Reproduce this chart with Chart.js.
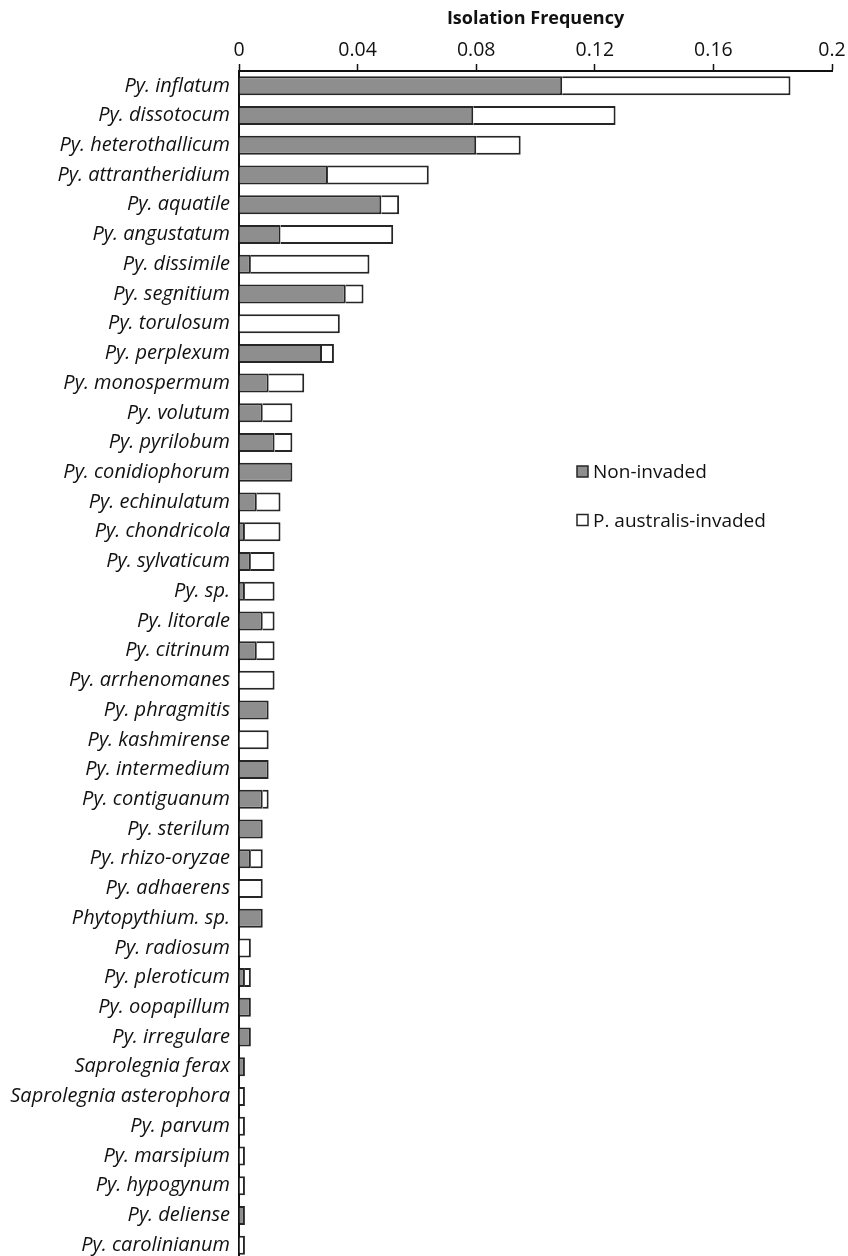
<!DOCTYPE html>
<html>
<head>
<meta charset="utf-8">
<script src="https://cdn.jsdelivr.net/npm/chart.js@4.4.0/dist/chart.umd.min.js"></script>
<style>
    html, body { margin: 0; padding: 0; background: #fff; overflow: hidden; }
    #wrap { position: relative; width: 848px; height: 1281px; }
</style>
</head>
<body>
<div id="wrap"><canvas id="freqChart"></canvas></div>
<script>
const species = [
    'Py. inflatum', 'Py. dissotocum', 'Py. heterothallicum', 'Py. attrantheridium', 'Py. aquatile',
    'Py. angustatum', 'Py. dissimile', 'Py. segnitium', 'Py. torulosum', 'Py. perplexum',
    'Py. monospermum', 'Py. volutum', 'Py. pyrilobum', 'Py. conidiophorum', 'Py. echinulatum',
    'Py. chondricola', 'Py. sylvaticum', 'Py. sp.', 'Py. litorale', 'Py. citrinum',
    'Py. arrhenomanes', 'Py. phragmitis', 'Py. kashmirense', 'Py. intermedium', 'Py. contiguanum',
    'Py. sterilum', 'Py. rhizo-oryzae', 'Py. adhaerens', 'Phytopythium. sp.', 'Py. radiosum',
    'Py. pleroticum', 'Py. oopapillum', 'Py. irregulare', 'Saprolegnia ferax', 'Saprolegnia asterophora',
    'Py. parvum', 'Py. marsipium', 'Py. hypogynum', 'Py. deliense', 'Py. carolinianum'
];

// non-invaded sites (grey part of each bar)
const nonInvaded = [
    0.109, 0.079, 0.080, 0.030, 0.048,
    0.014, 0.004, 0.036, 0, 0.028,
    0.010, 0.008, 0.012, 0.018, 0.006,
    0.002, 0.004, 0.002, 0.008, 0.006,
    0, 0.010, 0, 0.010, 0.008,
    0.008, 0.004, 0, 0.008, 0,
    0.002, 0.004, 0.004, 0.002, 0,
    0, 0, 0, 0.002, 0
];

// P. australis-invaded sites (white part, stacked after the grey one)
const invaded = [
    0.077, 0.048, 0.015, 0.034, 0.006,
    0.038, 0.040, 0.006, 0.034, 0.004,
    0.012, 0.010, 0.006, 0, 0.008,
    0.012, 0.008, 0.010, 0.004, 0.006,
    0.012, 0, 0.010, 0, 0.002,
    0, 0.004, 0.008, 0, 0.004,
    0.002, 0, 0, 0, 0.002,
    0.002, 0.002, 0.002, 0, 0.002
];

const xTicks = [0, 0.04, 0.08, 0.12, 0.16, 0.2];

const FONT = "'Open Sans', 'Noto Sans', sans-serif";
const EDGE = '#262626';

// legend drawn inside the plot area, like the original figure
const insideLegend = {
    id: 'insideLegend',
    afterDraw(chart) {
        const ctx = chart.ctx;
        ctx.save();
        ctx.font = '19px ' + FONT;
        ctx.textBaseline = 'middle';
        chart.data.datasets.forEach((ds, i) => {
            const y = 472 + i * 48.5;
            ctx.fillStyle = ds.backgroundColor;
            ctx.fillRect(577, y - 6, 11, 11);
            ctx.strokeStyle = EDGE;
            ctx.lineWidth = 1.5;
            ctx.strokeRect(577, y - 6, 11, 11);
            ctx.fillStyle = '#111';
            ctx.fillText(ds.label, 593, y + 1);
        });
        ctx.restore();
    }
};

const ctxFreq = document.getElementById('freqChart').getContext('2d');
const freqChart = new Chart(ctxFreq, {
    type: 'bar',
    data: {
        labels: species,
        datasets: [
            {
                label: 'Non-invaded',
                data: nonInvaded,
                backgroundColor: '#8e8e8e',
                borderColor: EDGE,
                borderWidth: 2
            },
            {
                label: 'P. australis-invaded',
                data: invaded,
                backgroundColor: '#ffffff',
                borderColor: EDGE,
                borderWidth: 2
            }
        ]
    },
    options: {
        indexAxis: 'y',
        responsive: true,
        maintainAspectRatio: false,
        animation: false,
        layout: { padding: { left: 0, right: 16, top: 0, bottom: 1 } },
        datasets: {
            bar: { barPercentage: 0.64, categoryPercentage: 1 }
        },
        plugins: {
            legend: { display: false },
            tooltip: { enabled: false }
        },
        scales: {
            x: {
                position: 'top',
                stacked: true,
                min: 0,
                max: 0.2,
                afterBuildTicks: scale => {
                    scale.ticks = xTicks.map(v => ({ value: v }));
                },
                afterFit: scale => { scale.height = 71; },
                ticks: {
                    color: '#111',
                    padding: 2,
                    font: { family: FONT, size: 19.5 },
                    callback: v => String(v)
                },
                grid: {
                    drawOnChartArea: false,
                    drawTicks: true,
                    tickLength: 7,
                    tickWidth: 1.5,
                    tickColor: '#111'
                },
                border: { display: true, color: '#111', width: 2 },
                title: {
                    display: true,
                    text: 'Isolation Frequency',
                    color: '#111',
                    padding: { top: 8, bottom: 0 },
                    font: { family: FONT, size: 18, weight: 'bold' }
                }
            },
            y: {
                stacked: true,
                afterFit: scale => { scale.width = 239; },
                ticks: {
                    color: '#111',
                    padding: 9,
                    autoSkip: false,
                    font: { family: FONT, size: 20, style: 'italic' }
                },
                grid: { display: false, drawTicks: false },
                border: { display: true, color: '#111', width: 2 }
            }
        }
    },
    plugins: [insideLegend]
});
</script>
</body>
</html>
